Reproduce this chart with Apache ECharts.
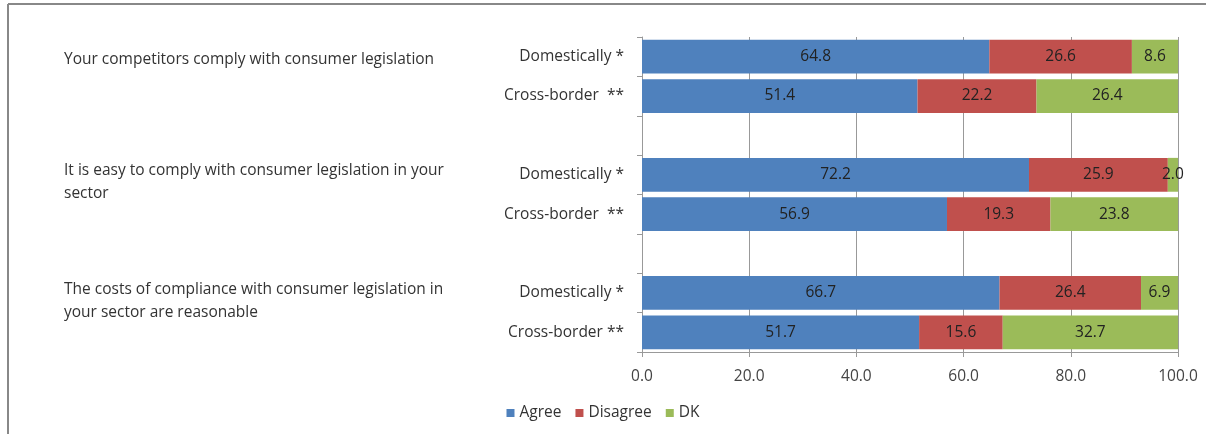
<!DOCTYPE html>
<html>
<head>
<meta charset="utf-8">
<style>
  html, body { margin: 0; padding: 0; background: #fff; }
  #chart { width: 1206px; height: 434px; }
</style>
<script src="https://cdn.jsdelivr.net/npm/echarts@6/dist/echarts.min.js"></script>
</head>
<body>
<div id="chart"></div>
<script>
// Row labels; empty strings are the spacer rows between statements
const categories = ['Domestically *', 'Cross-border  **', '', 'Domestically *', 'Cross-border  **', '', 'Domestically *', 'Cross-border **'];
const agree    = [64.8, 51.4, null, 72.2, 56.9, null, 66.7, 51.7];
const disagree = [26.6, 22.2, null, 25.9, 19.3, null, 26.4, 15.6];
const dk       = [8.6, 26.4, null, 2.0, 23.8, null, 6.9, 32.7];
const seriesNames = ['Agree', 'Disagree', 'DK'];
const statements = [
  'Your competitors comply with consumer legislation',
  'It is easy to comply with consumer legislation in your\nsector',
  'The costs of compliance with consumer legislation in\nyour sector are reasonable'
];

const FONT = '"Open Sans", Lato, sans-serif';
const FS = 15.5;
const colors = ['#4F81BD', '#C0504D', '#9BBB59'];

const chart = echarts.init(document.getElementById('chart'));

function barSeries(name, data, color) {
  return {
    name: name,
    type: 'bar',
    stack: 'total',
    data: data,
    barCategoryGap: '14%',
    itemStyle: { color: color },
    label: {
      show: true,
      position: 'inside',
      color: '#222',
      fontFamily: FONT,
      fontSize: FS,
      formatter: p => p.value == null ? '' : Number(p.value).toFixed(1)
    }
  };
}

const statementTexts = statements.map((s, i) => ({
  type: 'text',
  left: 64,
  top: [48, 159, 278][i],
  style: { text: s, font: FS + 'px ' + FONT, fill: '#333', lineHeight: 23 }
}));

chart.setOption({
  animation: false,
  grid: { left: 642, right: 28, top: 37, bottom: 82, containLabel: false },
  xAxis: {
    type: 'value',
    min: 0,
    max: 100,
    interval: 20,
    axisLine: { show: true, lineStyle: { color: '#999' } },
    axisTick: { show: true, length: 5, lineStyle: { color: '#999' } },
    splitLine: { show: true, lineStyle: { color: '#999', width: 1 } },
    axisLabel: {
      color: '#444', fontFamily: FONT, fontSize: FS, margin: 17,
      formatter: v => v.toFixed(1)
    }
  },
  yAxis: {
    type: 'category',
    inverse: true,
    data: categories,
    axisLine: { show: true, lineStyle: { color: '#999' } },
    axisTick: { show: true, length: 5, alignWithLabel: false, lineStyle: { color: '#999' } },
    axisLabel: { color: '#333', fontFamily: FONT, fontSize: FS, margin: 18 }
  },
  legend: {
    bottom: 8,
    left: 'center',
    itemWidth: 8,
    itemHeight: 8,
    itemGap: 14,
    icon: 'rect',
    textStyle: { color: '#333', fontFamily: FONT, fontSize: FS },
    data: seriesNames
  },
  series: [
    barSeries(seriesNames[0], agree, colors[0]),
    barSeries(seriesNames[1], disagree, colors[1]),
    barSeries(seriesNames[2], dk, colors[2])
  ],
  graphic: [
    // outer frame edges (top and left)
    { type: 'line', shape: { x1: 8, y1: 4, x2: 1206, y2: 4 }, style: { stroke: '#888', lineWidth: 2 } },
    { type: 'line', shape: { x1: 8, y1: 4, x2: 8, y2: 434 }, style: { stroke: '#888', lineWidth: 2 } }
  ].concat(statementTexts)
});
</script>
</body>
</html>
